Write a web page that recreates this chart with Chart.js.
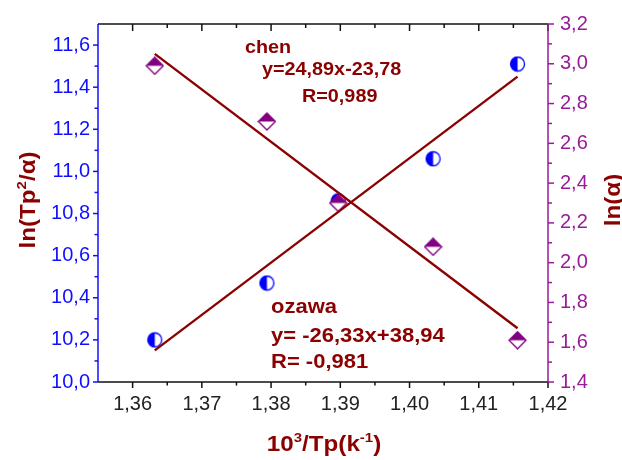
<!DOCTYPE html>
<html>
<head>
<meta charset="utf-8">
<script src="https://cdn.jsdelivr.net/npm/chart.js@4.4.0/dist/chart.umd.min.js"></script>
<style>
html, body { margin: 0; padding: 0; background: #fff; }
</style>
</head>
<body>
<canvas id="kinetics" width="622" height="460"></canvas>
<script>
// 10^3/Tp for each heating rate
var invTp = [1.3632, 1.3794, 1.3897, 1.4034, 1.4156];
// chen: ln(Tp^2/alpha), left axis
var chenVals = [10.20, 10.47, 10.86, 11.06, 11.51];
// ozawa: ln(alpha), right axis
var ozawaVals = [2.99, 2.71, 2.30, 2.08, 1.61];
// end points of the two fitted lines
var fitX = [1.3632, 1.4156];
var chenFit = [10.15, 11.45];
var ozawaFit = [3.05, 1.67];
// tick labels
var xTicks = [1.36, 1.37, 1.38, 1.39, 1.40, 1.41, 1.42];
var leftTicks = [10.0, 10.2, 10.4, 10.6, 10.8, 11.0, 11.2, 11.4, 11.6];
var rightTicks = [1.4, 1.6, 1.8, 2.0, 2.2, 2.4, 2.6, 2.8, 3.0, 3.2];

var FONT = "Arial, 'Liberation Sans', sans-serif";
var RED = '#8b0000';
var BLUE = '#1010ff';
var PURPLE = '#981c98';

function comma(v, d) { return v.toFixed(d).replace('.', ','); }
function pts(xs, ys) { return xs.map(function (x, i) { return { x: x, y: ys[i] }; }); }
function mids(arr) {
  var out = [];
  for (var i = 0; i < arr.length - 1; i++) out.push((arr[i] + arr[i + 1]) / 2);
  return out;
}

// half filled circle (left half solid)
function halfCircle(color) {
  var c = document.createElement('canvas');
  c.width = 17; c.height = 17;
  var g = c.getContext('2d');
  g.fillStyle = '#fff';
  g.beginPath(); g.arc(8.5, 8.5, 7, 0, 2 * Math.PI); g.fill();
  g.fillStyle = color;
  g.beginPath(); g.arc(8.5, 8.5, 7, Math.PI / 2, Math.PI * 1.5); g.closePath(); g.fill();
  g.strokeStyle = color; g.lineWidth = 1.3;
  g.beginPath(); g.arc(8.5, 8.5, 7, 0, 2 * Math.PI); g.stroke();
  return c;
}

// half filled diamond (top half solid)
function halfDiamond(color) {
  var c = document.createElement('canvas');
  c.width = 19; c.height = 19;
  var g = c.getContext('2d');
  g.fillStyle = '#fff';
  g.beginPath(); g.moveTo(9.5, 1); g.lineTo(18, 9.5); g.lineTo(9.5, 18); g.lineTo(1, 9.5); g.closePath(); g.fill();
  g.fillStyle = color;
  g.beginPath(); g.moveTo(9.5, 1); g.lineTo(18, 9.5); g.lineTo(1, 9.5); g.closePath(); g.fill();
  g.strokeStyle = color; g.lineWidth = 1.3;
  g.beginPath(); g.moveTo(9.5, 1); g.lineTo(18, 9.5); g.lineTo(9.5, 18); g.lineTo(1, 9.5); g.closePath(); g.stroke();
  return c;
}

// text in pieces, second item true = superscript
function drawRich(ctx, parts, x, y, size, rot, align) {
  ctx.save();
  ctx.translate(x, y);
  ctx.rotate(rot);
  ctx.scale(1.1, 1);
  ctx.textBaseline = 'alphabetic';
  ctx.textAlign = 'left';
  var total = 0;
  parts.forEach(function (p) {
    ctx.font = 'bold ' + (p[1] ? size * 0.62 : size) + 'px ' + FONT;
    total += ctx.measureText(p[0]).width;
  });
  var cx = align === 'center' ? -total / 2 : 0;
  parts.forEach(function (p) {
    ctx.font = 'bold ' + (p[1] ? size * 0.62 : size) + 'px ' + FONT;
    ctx.fillText(p[0], cx, p[1] ? -size * 0.42 : 0);
    cx += ctx.measureText(p[0]).width;
  });
  ctx.restore();
}

// axis lines, major/minor ticks, titles and fit labels
var frame = {
  id: 'frame',
  afterDraw: function (chart) {
    var ctx = chart.ctx, a = chart.chartArea;
    var sx = chart.scales.x, sl = chart.scales.yL, sr = chart.scales.yR;
    ctx.save();
    ctx.lineWidth = 1.5;

    function tick(x1, y1, x2, y2) { ctx.beginPath(); ctx.moveTo(x1, y1); ctx.lineTo(x2, y2); ctx.stroke(); }

    // bottom and top
    ctx.strokeStyle = '#111';
    tick(a.left, a.bottom, a.right, a.bottom);
    tick(a.left, a.top, a.right, a.top);
    xTicks.forEach(function (v) {
      var p = sx.getPixelForValue(v);
      tick(p, a.bottom, p, a.bottom + 6);
      tick(p, a.top, p, a.top + 7);
    });
    mids(xTicks).forEach(function (v) {
      var p = sx.getPixelForValue(v);
      tick(p, a.bottom, p, a.bottom + 3.5);
      tick(p, a.top, p, a.top + 4);
    });

    // left
    ctx.strokeStyle = BLUE;
    tick(a.left, a.top, a.left, a.bottom);
    leftTicks.forEach(function (v) { var p = sl.getPixelForValue(v); tick(a.left, p, a.left - 5, p); });
    mids(leftTicks).forEach(function (v) { var p = sl.getPixelForValue(v); tick(a.left, p, a.left - 3.5, p); });

    // right
    ctx.strokeStyle = PURPLE;
    tick(a.right, a.top, a.right, a.bottom);
    rightTicks.forEach(function (v) { var p = sr.getPixelForValue(v); tick(a.right, p, a.right + 6, p); });
    mids(rightTicks).forEach(function (v) { var p = sr.getPixelForValue(v); tick(a.right, p, a.right + 4, p); });

    // axis titles
    ctx.fillStyle = RED;
    drawRich(ctx, [['10', false], ['3', true], ['/Tp(k', false], ['-1', true], [')', false]], 324, 451, 22, 0, 'center');
    drawRich(ctx, [['ln(Tp', false], ['2', true], ['/\u03b1)', false]], 35, 200, 22, -Math.PI / 2, 'center');
    drawRich(ctx, [['ln(\u03b1)', false]], 620, 200, 22, -Math.PI / 2, 'center');

    // fit labels
    drawRich(ctx, [['chen', false]], 245, 53, 18, 0, 'left');
    drawRich(ctx, [['y=24,89x-23,78', false]], 262, 75, 18, 0, 'left');
    drawRich(ctx, [['R=0,989', false]], 302, 102, 18, 0, 'left');
    drawRich(ctx, [['ozawa', false]], 271, 313, 20, 0, 'left');
    drawRich(ctx, [['y= -26,33x+38,94', false]], 271, 342, 20, 0, 'left');
    drawRich(ctx, [['R= -0,981', false]], 271, 368, 20, 0, 'left');
    ctx.restore();
  }
};

var ctx = document.getElementById('kinetics');
var myChart = new Chart(ctx, {
  type: 'scatter',
  data: {
    datasets: [
      {
        label: 'chen fit',
        data: pts(fitX, chenFit),
        yAxisID: 'yL',
        showLine: true,
        borderColor: RED,
        borderWidth: 2.4,
        pointRadius: 0,
        order: 1
      },
      {
        label: 'ozawa fit',
        data: pts(fitX, ozawaFit),
        yAxisID: 'yR',
        showLine: true,
        borderColor: RED,
        borderWidth: 2.4,
        pointRadius: 0,
        order: 1
      },
      {
        label: 'ln(alpha)',
        data: pts(invTp, ozawaVals),
        yAxisID: 'yR',
        pointStyle: halfDiamond('#800080'),
        order: 2
      },
      {
        label: 'ln(Tp2/alpha)',
        data: pts(invTp, chenVals),
        yAxisID: 'yL',
        pointStyle: halfCircle('#0000ff'),
        order: 3
      }
    ]
  },
  options: {
    responsive: false,
    animation: false,
    layout: { padding: { top: 20, left: 0, right: 0, bottom: 0 } },
    plugins: { legend: { display: false }, tooltip: { enabled: false } },
    scales: {
      x: {
        type: 'linear',
        position: 'bottom',
        min: 1.355,
        max: 1.42,
        afterBuildTicks: function (s) { s.ticks = xTicks.map(function (v) { return { value: v }; }); },
        afterFit: function (s) { s.height = 78; },
        grid: { display: false, drawTicks: false },
        border: { display: false },
        ticks: {
          autoSkip: false,
          maxRotation: 0,
          padding: 10,
          color: '#222',
          font: { family: FONT, size: 20 },
          callback: function (v) { return comma(v, 2); }
        }
      },
      yL: {
        type: 'linear',
        position: 'left',
        min: 10,
        max: 11.7,
        afterBuildTicks: function (s) { s.ticks = leftTicks.map(function (v) { return { value: v }; }); },
        afterFit: function (s) { s.width = 98; },
        grid: { display: false, drawTicks: false },
        border: { display: false },
        ticks: {
          autoSkip: false,
          padding: 8,
          color: BLUE,
          font: { family: FONT, size: 20 },
          callback: function (v) { return comma(v, 1); }
        }
      },
      yR: {
        type: 'linear',
        position: 'right',
        min: 1.4,
        max: 3.2,
        afterBuildTicks: function (s) { s.ticks = rightTicks.map(function (v) { return { value: v }; }); },
        afterFit: function (s) { s.width = 74; },
        grid: { display: false, drawTicks: false },
        border: { display: false },
        ticks: {
          autoSkip: false,
          padding: 12,
          color: PURPLE,
          font: { family: FONT, size: 20 },
          callback: function (v) { return comma(v, 1); }
        }
      }
    }
  },
  plugins: [frame]
});
</script>
</body>
</html>
